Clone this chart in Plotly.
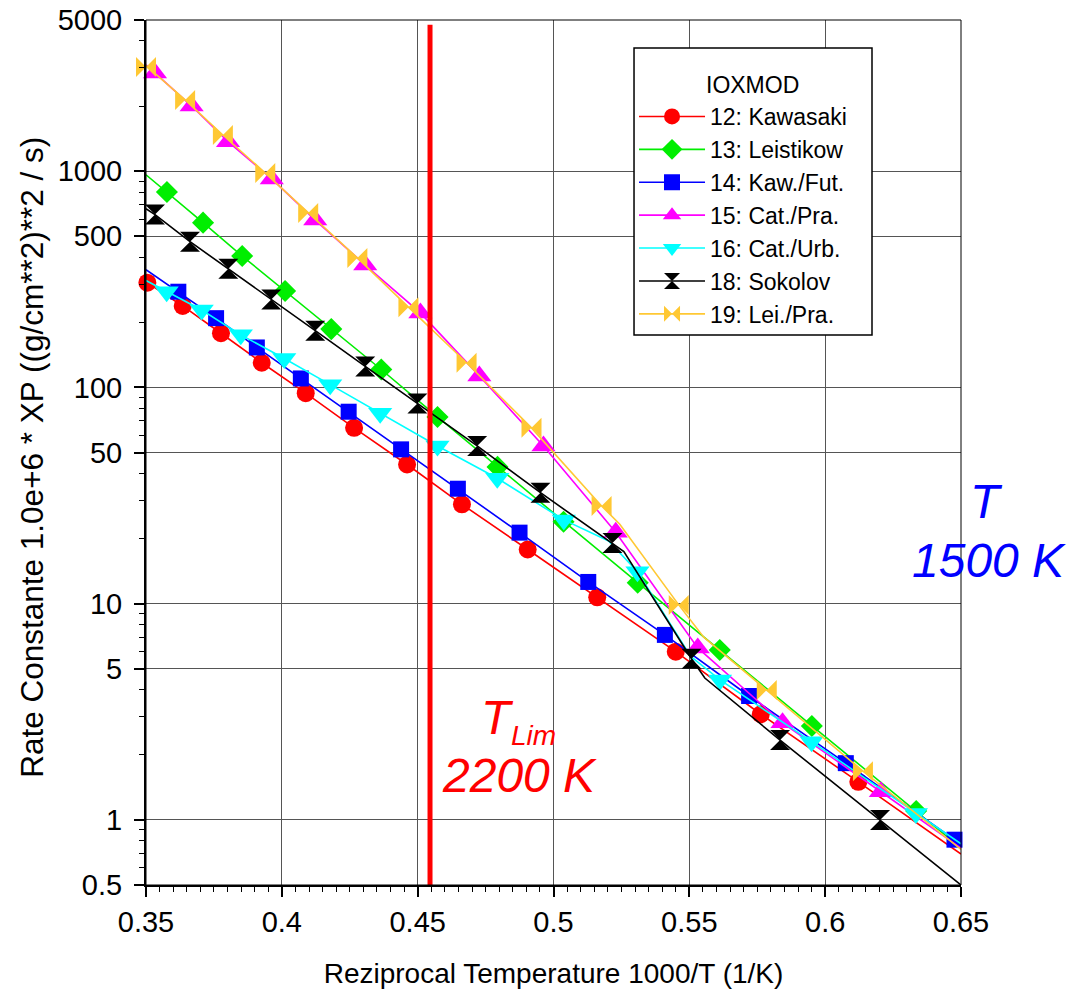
import math
import plotly.graph_objects as go

# ---------------- data ----------------
X_START = 0.35
X_END = 0.65
Y_MIN = 0.5
Y_MAX = 5000

# 12: Kawasaki
KAW_MX = [0.3505, 0.3635, 0.3776, 0.3926, 0.4088, 0.4266, 0.4461, 0.4663, 0.4905, 0.5161, 0.5450, 0.5763, 0.6122]
KAW_MY = [305, 238, 178, 130, 94, 65, 44, 28.8, 17.8, 10.7, 6.0, 3.08, 1.50]
KAW_Y0, KAW_Y1 = 308, 0.695
KAW_KX, KAW_KY = [], []

# 13: Leistikow
LEI_MX = [0.3577, 0.3710, 0.3854, 0.4012, 0.4182, 0.4366, 0.4573, 0.4794, 0.5037, 0.5310, 0.5612, 0.5951, 0.6335]
LEI_MY = [801, 578, 405, 279, 186, 121, 73, 42.9, 23.9, 12.5, 6.1, 2.72, 1.10]
LEI_Y0, LEI_Y1 = 962, 0.74
LEI_KX, LEI_KY = [], []

# 14: Kaw./Fut.
KF_MX = [0.3619, 0.3758, 0.3908, 0.4070, 0.4246, 0.4439, 0.4648, 0.4875, 0.5128, 0.5410, 0.5720, 0.6076, 0.6476]
KF_MY = [277, 209, 153, 110, 77.2, 51.7, 34.0, 21.3, 12.6, 7.17, 3.74, 1.83, 0.81]
KF_Y0, KF_Y1 = 350, 0.78
KF_KX, KF_KY = [], []

# 15: Cat./Pra.
CP_MX = [0.3533, 0.3668, 0.3802, 0.3963, 0.4123, 0.4307, 0.4510, 0.4727, 0.4963, 0.5229, 0.5531, 0.5843, 0.6205]
CP_MY = [2844, 2000, 1368, 921, 594, 368, 221, 113, 53.6, 21.4, 6.24, 2.81, 1.35]
CP_Y0, CP_Y1 = 3100, 0.74
CP_KX, CP_KY = [], []

# 16: Cat./Urb.
CU_MX = [0.3576, 0.3705, 0.3849, 0.4009, 0.4178, 0.4362, 0.4573, 0.4793, 0.5038, 0.5309, 0.5613, 0.5950, 0.6334]
CU_MY = [277, 228, 175, 136, 103, 75.9, 53.6, 38.0, 24.4, 14.05, 4.44, 2.30, 1.07]
CU_Y0, CU_Y1 = 312, 0.775
CU_KX, CU_KY = [0.5203, 0.5505], [19.5, 5.7]

# 18: Sokolov
SOK_MX = [0.3533, 0.3662, 0.3803, 0.3961, 0.4123, 0.4307, 0.4499, 0.4719, 0.4952, 0.5217, 0.5508, 0.5834, 0.6202]
SOK_MY = [630, 472, 354, 255, 183, 125, 84.2, 53.6, 32.6, 19.1, 5.56, 2.34, 1.0]
SOK_Y0, SOK_Y1 = 670, 0.5
SOK_KX, SOK_KY = [0.5259, 0.5557], [17.4, 4.53]

# 19: Lei./Pra.
LP_MX = [0.3500, 0.3644, 0.3783, 0.3939, 0.4097, 0.4278, 0.4466, 0.4680, 0.4919, 0.5177, 0.5461, 0.5785, 0.6139]
LP_MY = [3030, 2134, 1469, 980, 641, 397, 235, 130, 65, 28.3, 9.87, 3.99, 1.68]
LP_Y0, LP_Y1 = 3080, 0.73
LP_KX, LP_KY = [0.5244, 0.5553], [23.3, 7.0]

NAMES = ["12: Kawasaki", "13: Leistikow", "14: Kaw./Fut.", "15: Cat./Pra.",
         "16: Cat./Urb.", "18: Sokolov", "19: Lei./Pra."]
LEGEND_TITLE = "IOXMOD"

T_LIM = 2200       # K
TLIM_TOP = 4750

X_TICKS = [0.35, 0.4, 0.45, 0.5, 0.55, 0.6, 0.65]
X_TICKTEXT = ["0.35", "0.4", "0.45", "0.5", "0.55", "0.6", "0.65"]
Y_TICKS = [0.5, 1, 5, 10, 50, 100, 500, 1000, 5000]
Y_TICKTEXT = ["0.5", "1", "5", "10", "50", "100", "500", "1000", "5000"]
Y_MINOR = [0.6, 0.7, 0.8, 0.9, 2, 3, 4, 6, 7, 8, 9, 20, 30, 40, 60, 70, 80, 90,
           200, 300, 400, 600, 700, 800, 900, 2000, 3000, 4000]

X_TITLE = "Reziprocal Temperature 1000/T (1/K)"
Y_TITLE = "Rate Constante 1.0e+6 * XP ((g/cm**2)**2 / s)"

# ---------------- styling ----------------
FONT = "Liberation Sans, Arial, Helvetica, sans-serif"
series = [
    (KAW_MX, KAW_MY, KAW_Y0, KAW_Y1, KAW_KX, KAW_KY, "#ff0000", "circle", 18),
    (LEI_MX, LEI_MY, LEI_Y0, LEI_Y1, LEI_KX, LEI_KY, "#00ee00", "diamond", 17),
    (KF_MX, KF_MY, KF_Y0, KF_Y1, KF_KX, KF_KY, "#0000ff", "square", 16),
    (CP_MX, CP_MY, CP_Y0, CP_Y1, CP_KX, CP_KY, "#ff00ff", "triangle-up", 21),
    (CU_MX, CU_MY, CU_Y0, CU_Y1, CU_KX, CU_KY, "#00ffff", "triangle-down", 21),
    (SOK_MX, SOK_MY, SOK_Y0, SOK_Y1, SOK_KX, SOK_KY, "#000000", "hourglass", 20),
    (LP_MX, LP_MY, LP_Y0, LP_Y1, LP_KX, LP_KY, "#ffc833", "bowtie", 20),
]

fig = go.Figure()

for (mx, my, y0, y1, kx, ky, col, sym, sz), name in zip(series, NAMES):
    pts = sorted(list(zip(mx, my)) + list(zip(kx, ky)) + [(X_START, y0), (X_END, y1)])
    lx = [p[0] for p in pts]
    ly = [p[1] for p in pts]
    fig.add_trace(go.Scatter(x=lx, y=ly, mode="lines", line=dict(color=col, width=1.6),
                             showlegend=False, hoverinfo="skip"))
    fig.add_trace(go.Scatter(x=mx, y=my, mode="markers", cliponaxis=False,
                             marker=dict(color=col, symbol=sym, size=sz, line=dict(width=0)),
                             showlegend=False))
    fig.add_trace(go.Scatter(x=[None], y=[None], mode="lines+markers", name=name,
                             line=dict(color=col, width=1.6),
                             marker=dict(color=col, symbol=sym, size=sz, line=dict(width=0))))

# T_Lim vertical line
xl = 1000.0 / T_LIM
fig.add_trace(go.Scatter(x=[xl, xl], y=[Y_MIN, TLIM_TOP], mode="lines",
                         line=dict(color="#ff0000", width=5), showlegend=False, hoverinfo="skip"))

# frame (top / right)
fig.add_shape(type="rect", xref="paper", yref="paper", x0=0, x1=1, y0=0, y1=1,
              line=dict(color="black", width=1), layer="above")
# legend box
fig.add_shape(type="rect", xref="paper", yref="paper", x0=0.5988, x1=0.8908, y0=0.6358, y1=0.9676,
              line=dict(color="black", width=1.5), fillcolor="white", layer="above")
fig.add_annotation(text=LEGEND_TITLE, x=0.7436, y=0.925, xref="paper", yref="paper",
                   xanchor="center", yanchor="middle", showarrow=False,
                   font=dict(family=FONT, size=23, color="black"))

ann = [
    ("<i>T</i>", 0.4307, 0.194, 48, "#ff0000"),
    ("<i>Lim</i>", 0.4760, 0.1725, 28, "#ff0000"),
    ("<i>2200 K</i>", 0.4577, 0.127, 48, "#ff0000"),
    ("<i>T</i>", 1.0319, 0.4428, 48, "#0000ff"),
    ("<i>1500 K</i>", 1.0344, 0.3757, 48, "#0000ff"),
]
for txt, ax, ay, fs, col in ann:
    fig.add_annotation(text=txt, x=ax, y=ay, xref="paper", yref="paper",
                       xanchor="center", yanchor="middle", showarrow=False,
                       font=dict(family=FONT, size=fs, color=col))

# y-axis title as rotated annotation (precise placement)
fig.add_annotation(text=Y_TITLE, x=-0.1399, y=0.495, xref="paper", yref="paper",
                   xanchor="center", yanchor="middle", showarrow=False, textangle=-90,
                   font=dict(family=FONT, size=31.5, color="black"))

fig.update_layout(
    width=1081, height=992,
    margin=dict(l=146, r=120, t=20, b=107, autoexpand=False),
    paper_bgcolor="white", plot_bgcolor="white",
    font=dict(family=FONT, color="black"),
    legend=dict(
        x=0.5988, y=0.9133, xanchor="left", yanchor="top",
        bgcolor="rgba(0,0,0,0)", borderwidth=0,
        font=dict(family=FONT, size=23, color="black"),
        itemwidth=66,
    ),
    xaxis=dict(
        range=[X_START, X_END], tickmode="array", tickvals=X_TICKS, ticktext=X_TICKTEXT,
        ticks="outside", ticklen=10, tickwidth=1.5, tickcolor="black",
        showline=True, linewidth=2, linecolor="black", automargin=False,
        ticklabeloverflow="allow",
        showgrid=True, gridcolor="#555555", gridwidth=1, zeroline=False,
        tickfont=dict(size=29),
        minor=dict(ticks="outside", ticklen=5, tickwidth=1.2, tickcolor="black",
                   dtick=0.005, showgrid=False),
        title=dict(text=X_TITLE, font=dict(size=28), standoff=27),
    ),
    yaxis=dict(
        type="log", range=[math.log10(Y_MIN) - 1e-6, math.log10(Y_MAX) + 1e-6],
        tickmode="array", tickvals=Y_TICKS, ticktext=Y_TICKTEXT,
        ticks="outside", ticklen=10, tickwidth=1.5, tickcolor="black",
        showline=True, linewidth=2, linecolor="black", automargin=False,
        ticklabeloverflow="allow",
        showgrid=True, gridcolor="#555555", gridwidth=1, zeroline=False,
        tickfont=dict(size=29), ticklabelstandoff=6,
        minor=dict(ticks="outside", ticklen=5, tickwidth=1.2, tickcolor="black",
                   tickvals=Y_MINOR, showgrid=False),
    ),
)

# remove the page's default 8px body margin so the figure fills the window exactly
fig.write_html("out.html", config={"displayModeBar": False},
               post_script="document.body.style.margin='0';")
